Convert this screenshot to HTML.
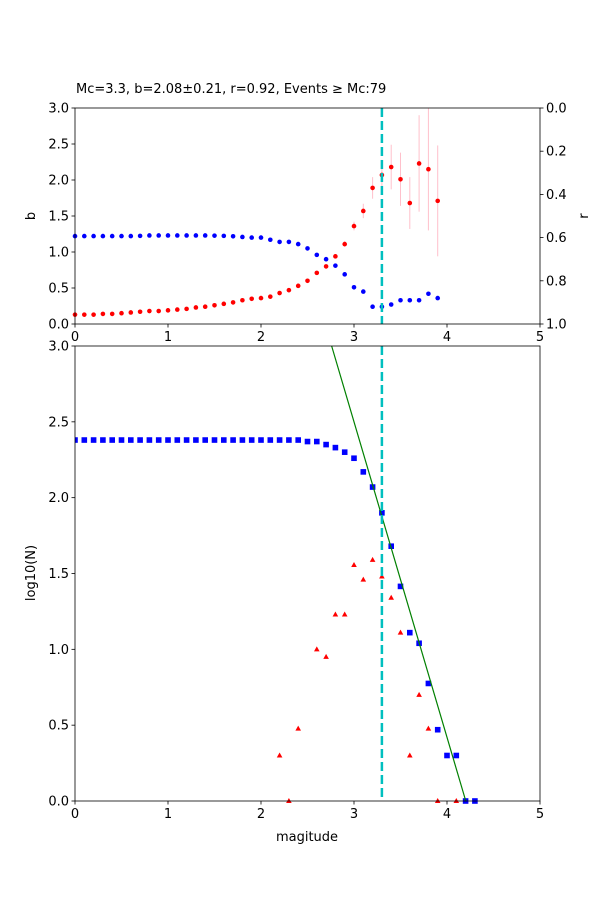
<!DOCTYPE html>
<html><head><meta charset="utf-8"><style>
body{margin:0;background:#fff}
svg text{font-family:"DejaVu Sans","Liberation Sans",sans-serif;font-size:13px;fill:#000}
</style></head><body>
<svg id="chart" width="600" height="900" viewBox="0 0 600 900" xmlns="http://www.w3.org/2000/svg">
<rect width="600" height="900" fill="#fff"/>
<text x="76" y="93">Mc=3.3, b=2.08±0.21, r=0.92, Events ≥ Mc:79</text>
<g id="topPanel"></g>
<g id="botPanel"></g>
</svg>
<script>
const mags=[0,0.1,0.2,0.3,0.4,0.5,0.6,0.7,0.8,0.9,1.0,1.1,1.2,1.3,1.4,1.5,1.6,1.7,1.8,1.9,2.0,2.1,2.2,2.3,2.4,2.5,2.6,2.7,2.8,2.9,3.0,3.1,3.2,3.3,3.4,3.5,3.6,3.7,3.8,3.9];
const bVals=[0.13,0.13,0.13,0.14,0.14,0.15,0.16,0.17,0.18,0.18,0.19,0.2,0.21,0.23,0.24,0.26,0.28,0.3,0.33,0.35,0.36,0.38,0.43,0.47,0.53,0.6,0.71,0.8,0.94,1.11,1.36,1.57,1.89,2.07,2.18,2.01,1.68,2.23,2.15,1.71];
const bErr=[0,0,0,0,0,0,0,0,0,0,0,0,0,0,0,0,0,0,0,0,0,0,0,0,0,0,0,0.02,0.03,0.04,0.06,0.1,0.15,0.21,0.31,0.37,0.36,0.67,0.85,0.77];
const rVals=[0.593,0.593,0.593,0.593,0.593,0.593,0.593,0.592,0.59,0.59,0.59,0.59,0.59,0.59,0.59,0.591,0.592,0.594,0.597,0.6,0.6,0.61,0.62,0.62,0.63,0.65,0.68,0.7,0.73,0.77,0.83,0.85,0.92,0.92,0.91,0.89,0.89,0.89,0.86,0.88];
const cumMags=[0,0.1,0.2,0.3,0.4,0.5,0.6,0.7,0.8,0.9,1.0,1.1,1.2,1.3,1.4,1.5,1.6,1.7,1.8,1.9,2.0,2.1,2.2,2.3,2.4,2.5,2.6,2.7,2.8,2.9,3.0,3.1,3.2,3.3,3.4,3.5,3.6,3.7,3.8,3.9,4.0,4.1,4.2,4.3];
const cumLogN=[2.38,2.38,2.38,2.38,2.38,2.38,2.38,2.38,2.38,2.38,2.38,2.38,2.38,2.38,2.38,2.38,2.38,2.38,2.38,2.38,2.38,2.38,2.38,2.38,2.38,2.37,2.37,2.35,2.33,2.30,2.26,2.17,2.07,1.90,1.68,1.415,1.11,1.04,0.775,0.47,0.30,0.30,0,0];
const incMags=[2.2,2.3,2.4,2.6,2.7,2.8,2.9,3.0,3.1,3.2,3.3,3.4,3.5,3.6,3.7,3.8,3.9,4.1];
const incLogN=[0.30,0,0.477,1.0,0.95,1.23,1.23,1.556,1.46,1.59,1.48,1.34,1.11,0.30,0.70,0.477,0,0];
const xTicks=[0,1,2,3,4,5];
const bTicks=["0.0","0.5","1.0","1.5","2.0","2.5","3.0"];
const rTicks=["0.0","0.2","0.4","0.6","0.8","1.0"];
const nTicks=["0.0","0.5","1.0","1.5","2.0","2.5","3.0"];
const Mc=3.3, fitA=8.74, fitB=2.08;

const NS="http://www.w3.org/2000/svg";
function mk(p,t,a){const e=document.createElementNS(NS,t);for(const k in a)e.setAttribute(k,a[k]);p.appendChild(e);return e;}
const L=75,R=540;
const X=m=>L+(m/5)*(R-L);
const T0=108,T1=324,yB=v=>T1-(v/3)*(T1-T0),yR=v=>T0+v*(T1-T0);
const B0=346,B1=801,yN=v=>B1-(v/3)*(B1-B0);
const topG=document.getElementById('topPanel'),botG=document.getElementById('botPanel');

function axes(g,y0,y1){
  for(const t of xTicks){
    const l=mk(g,'line',{x1:X(t),x2:X(t),y1:y1,y2:y1+3.5,stroke:'#000','stroke-width':0.8});
    
    
    const tx=mk(g,'text',{x:X(t),y:y1+17,'text-anchor':'middle'});tx.textContent=t;
    
    
  }
}
// top panel
axes(topG,T0,T1);
bTicks.forEach(s=>{const v=+s;mk(topG,'line',{x1:L-3.5,x2:L,y1:yB(v),y2:yB(v),stroke:'#000','stroke-width':0.8});
 const t=mk(topG,'text',{x:L-6,y:yB(v)+4.5,'text-anchor':'end'});t.textContent=s;
 
 });
rTicks.forEach(s=>{const v=+s;mk(topG,'line',{x1:R,x2:R+3.5,y1:yR(v),y2:yR(v),stroke:'#000','stroke-width':0.8});
 const t=mk(topG,'text',{x:R+6,y:yR(v)+4.5});t.textContent=s;
 
 });
let tt=mk(topG,'text',{x:35,y:216,'text-anchor':'middle',transform:'rotate(-90 35 216)'});tt.textContent='b';


tt=mk(topG,'text',{x:588,y:216,'text-anchor':'middle',transform:'rotate(-90 588 216)'});tt.textContent='r';


mags.forEach((m,i)=>{if(bErr[i]>0){const l=mk(topG,'line',{x1:X(m),x2:X(m),y1:Math.max(T0,yB(bVals[i]+bErr[i])),y2:yB(bVals[i]-bErr[i]),stroke:'#ffc0cb','stroke-width':1});
 
 }});
mags.forEach((m,i)=>{const c=mk(topG,'circle',{cx:X(m),cy:yB(bVals[i]),r:2.3,fill:'#f00'});
 
 });
mags.forEach((m,i)=>{const c=mk(topG,'circle',{cx:X(m),cy:yR(rVals[i]),r:2.3,fill:'#00f'});
 
 });
let d=mk(topG,'line',{x1:X(Mc),x2:X(Mc),y1:T0,y2:T1,stroke:'#00bfbf','stroke-width':2.5,'stroke-dasharray':'9 4'});


let fr=mk(topG,'rect',{x:L,y:T0,width:R-L,height:T1-T0,fill:'none',stroke:'#000','stroke-width':0.8});



// bottom panel
axes(botG,B0,B1);
nTicks.forEach(s=>{const v=+s;mk(botG,'line',{x1:L-3.5,x2:L,y1:yN(v),y2:yN(v),stroke:'#000','stroke-width':0.8});
 const t=mk(botG,'text',{x:L-6,y:yN(v)+4.5,'text-anchor':'end'});t.textContent=s;
 
 });
tt=mk(botG,'text',{x:35,y:573,'text-anchor':'middle',transform:'rotate(-90 35 573)'});tt.textContent='log10(N)';


tt=mk(botG,'text',{x:307,y:841,'text-anchor':'middle'});tt.textContent='magitude';


mk(mk(botG,'clipPath',{id:'bc'}),'rect',{x:L,y:B0-4,width:R-L,height:B1-B0+8});
const pg=mk(botG,'g',{'clip-path':'url(#bc)'});
cumMags.forEach((m,i)=>{const r=mk(pg,'rect',{x:X(m)-2.8,y:yN(cumLogN[i])-2.8,width:5.6,height:5.6,fill:'#00f'});
 
 });
incMags.forEach((m,i)=>{const x=X(m),y=yN(incLogN[i]);const p=mk(pg,'polygon',{points:`${x},${y-3} ${x-2.8},${y+2} ${x+2.8},${y+2}`,fill:'#f00'});
 
 });
const m1=(fitA-3)/fitB,m2=fitA/fitB;
let fl=mk(pg,'line',{x1:X(m1),y1:yN(3),x2:X(m2),y2:yN(0),stroke:'#008000','stroke-width':1.2});


d=mk(botG,'line',{x1:X(Mc),x2:X(Mc),y1:B0,y2:B1,stroke:'#00bfbf','stroke-width':2.5,'stroke-dasharray':'9 4'});


fr=mk(botG,'rect',{x:L,y:B0,width:R-L,height:B1-B0,fill:'none',stroke:'#000','stroke-width':0.8});


</script>
</body></html>
